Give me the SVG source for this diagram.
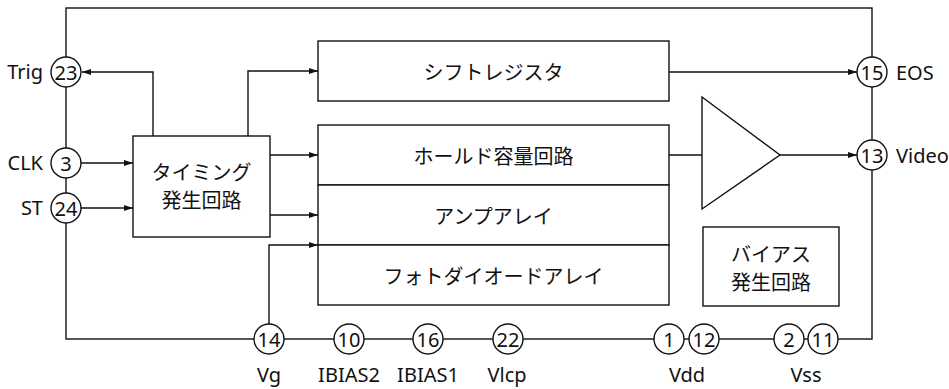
<svg xmlns="http://www.w3.org/2000/svg" width="949" height="389" viewBox="0 0 949 389">
<defs>
<marker id="ah" markerWidth="10" markerHeight="8" refX="9" refY="4" orient="auto" markerUnits="userSpaceOnUse">
<path d="M0,1 L9,4 L0,7 Z" fill="#111"/>
</marker>
<style>
.ln{fill:none;stroke:#111;stroke-width:1.4}
.bx{fill:#fff;stroke:#111;stroke-width:1.4}
.pin{fill:#fff;stroke:#111;stroke-width:1.4}
.t{font-family:"Noto Sans","DejaVu Sans",sans-serif;font-size:20px;fill:#111;dominant-baseline:central}
.n{font-family:"Noto Sans","DejaVu Sans",sans-serif;font-size:20px;fill:#111;text-anchor:middle;dominant-baseline:central}
.j{font-family:"Noto Sans CJK JP","DejaVu Sans",sans-serif;font-size:20px;fill:#111;text-anchor:middle;dominant-baseline:central}
</style>
</defs>
<rect width="949" height="389" fill="#fff"/>
<g id="connectors">
<rect class="ln" x="66" y="8" width="806" height="331"/>
<path class="ln" d="M153,136 V72 H82" marker-end="url(#ah)"/>
<path class="ln" d="M248,136 V71 H318" marker-end="url(#ah)"/>
<path class="ln" d="M81,163 H133" marker-end="url(#ah)"/>
<path class="ln" d="M81,208 H133" marker-end="url(#ah)"/>
<path class="ln" d="M270,155 H318" marker-end="url(#ah)"/>
<path class="ln" d="M270,215 H318" marker-end="url(#ah)"/>
<path class="ln" d="M269,324 V245 H318" marker-end="url(#ah)"/>
<path class="ln" d="M669,72 H857" marker-end="url(#ah)"/>
<path class="ln" d="M669,155 H702"/>
<path class="ln" d="M780,155 H857" marker-end="url(#ah)"/>
</g>
<g id="shift_register">
<rect class="bx" x="318" y="41" width="351" height="60"/>
<text class="j" x="493.5" y="71">シフトレジスタ</text>
</g>
<g id="hold_capacitor">
<rect class="bx" x="318" y="125" width="351" height="60"/>
<text class="j" x="493.5" y="155">ホールド容量回路</text>
</g>
<g id="amp_array">
<rect class="bx" x="318" y="185" width="351" height="60"/>
<text class="j" x="493.5" y="215">アンプアレイ</text>
</g>
<g id="photodiode_array">
<rect class="bx" x="318" y="245" width="351" height="60"/>
<text class="j" x="493.5" y="275">フォトダイオードアレイ</text>
</g>
<g id="timing">
<rect class="bx" x="133" y="136" width="137" height="101"/>
<text class="j" x="201.5" y="171">タイミング</text>
<text class="j" x="201.5" y="199">発生回路</text>
</g>
<g id="amplifier">
<path class="bx" d="M702,97 L780,155 L702,209 Z"/>
</g>
<g id="bias">
<rect class="bx" x="703" y="227" width="136" height="79"/>
<text class="j" x="771" y="253">バイアス</text>
<text class="j" x="771" y="281">発生回路</text>
</g>
<g id="pin23"><circle class="pin" cx="66" cy="72" r="15"/><text class="n" x="66" y="72">23</text><text class="t" x="43" y="71" text-anchor="end">Trig</text></g>
<g id="pin3"><circle class="pin" cx="66" cy="163" r="15"/><text class="n" x="66" y="163">3</text><text class="t" x="43" y="162" text-anchor="end">CLK</text></g>
<g id="pin24"><circle class="pin" cx="66" cy="208" r="15"/><text class="n" x="66" y="208">24</text><text class="t" x="43" y="207" text-anchor="end">ST</text></g>
<g id="pin15"><circle class="pin" cx="872" cy="72" r="15"/><text class="n" x="872" y="72">15</text><text class="t" x="896" y="72">EOS</text></g>
<g id="pin13"><circle class="pin" cx="872" cy="155" r="15"/><text class="n" x="872" y="155">13</text><text class="t" x="896" y="155">Video</text></g>
<g id="pin14"><circle class="pin" cx="269" cy="339" r="15"/><text class="n" x="269" y="339">14</text><text class="t" x="269" y="374" text-anchor="middle">Vg</text></g>
<g id="pin10"><circle class="pin" cx="349" cy="339" r="15"/><text class="n" x="349" y="339">10</text><text class="t" x="349" y="374" text-anchor="middle">IBIAS2</text></g>
<g id="pin16"><circle class="pin" cx="428" cy="339" r="15"/><text class="n" x="428" y="339">16</text><text class="t" x="428" y="374" text-anchor="middle">IBIAS1</text></g>
<g id="pin22"><circle class="pin" cx="508" cy="339" r="15"/><text class="n" x="508" y="339">22</text><text class="t" x="507" y="374" text-anchor="middle">Vlcp</text></g>
<g id="pin1"><circle class="pin" cx="669" cy="339" r="15"/><text class="n" x="669" y="339">1</text></g>
<g id="pin12"><circle class="pin" cx="704" cy="339" r="15"/><text class="n" x="704" y="339">12</text></g>
<text class="t" x="687" y="374" text-anchor="middle">Vdd</text>
<g id="pin2"><circle class="pin" cx="789" cy="339" r="15"/><text class="n" x="789" y="339">2</text></g>
<g id="pin11"><circle class="pin" cx="823" cy="339" r="15"/><text class="n" x="823" y="339">11</text></g>
<text class="t" x="806" y="374" text-anchor="middle">Vss</text>
</svg>
